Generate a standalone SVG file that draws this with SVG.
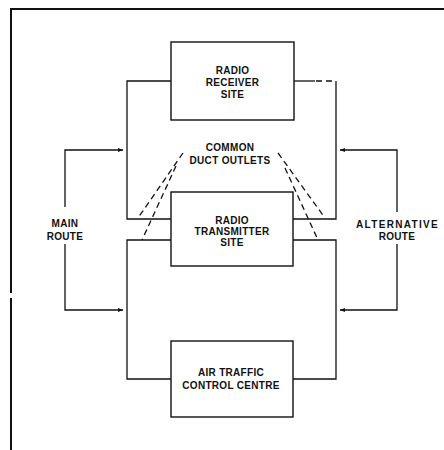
<svg xmlns="http://www.w3.org/2000/svg" width="444" height="450" viewBox="0 0 444 450">
<defs>
<style>
.ln{stroke:#111;stroke-width:1.3;fill:none}
.dsh{stroke:#111;stroke-width:1.3;fill:none;stroke-dasharray:6,4}
.box{stroke:#111;stroke-width:1.4;fill:#fff}
.t{font-family:"Liberation Sans",Arial,sans-serif;font-size:10px;font-weight:bold;fill:#111;text-anchor:middle;letter-spacing:0.3px}
</style>
<marker id="ah" viewBox="0 0 10 10" refX="10" refY="5" markerWidth="5" markerHeight="5" orient="auto" markerUnits="userSpaceOnUse">
<path d="M0,1 L10,5 L0,9 z" fill="#111"/>
</marker>
</defs>
<rect width="444" height="450" fill="#fff"/>
<g id="frame">
<path d="M11,450 L11,298 M11,293 L11,9 L444,9" stroke="#111" stroke-width="2" fill="none"/>
</g>
<g id="connectors">
<path class="ln" d="M171,81 L127,81 L127,219 L171,219"/>
<path class="ln" d="M171,240 L127,240 L127,379 L171,379"/>
<path class="ln" d="M294,81 L315,81"/>
<path class="dsh" d="M316,81 L336,81" stroke-dasharray="5,2"/>
<path class="ln" d="M336,81 L336,219 L293,219"/>
<path class="ln" d="M293,240 L336,240 L336,379 L293,379"/>
<path class="ln" d="M65,207 L65,150 L123,150" marker-end="url(#ah)"/>
<path class="ln" d="M65,244 L65,310 L123,310" marker-end="url(#ah)"/>
<path class="ln" d="M397,212 L397,150 L340,150" marker-end="url(#ah)"/>
<path class="ln" d="M397,244 L397,310 L340,310" marker-end="url(#ah)"/>
<path class="dsh" d="M183,153 L138,218"/>
<path class="dsh" d="M176,166 L142,240"/>
<path class="dsh" d="M278,153 L325,218"/>
<path class="dsh" d="M285,168 L318,240"/>
</g>
<g id="receiver">
<rect class="box" x="171" y="42" width="123" height="78"/>
<text class="t" x="232.5" y="74">RADIO</text>
<text class="t" x="232.5" y="86">RECEIVER</text>
<text class="t" x="232.5" y="98">SITE</text>
</g>
<g id="duct-label">
<text class="t" x="230" y="151">COMMON</text>
<text class="t" x="230" y="164">DUCT OUTLETS</text>
</g>
<g id="transmitter">
<rect class="box" x="171" y="192" width="122" height="74"/>
<text class="t" x="232" y="224">RADIO</text>
<text class="t" x="232" y="235">TRANSMITTER</text>
<text class="t" x="232" y="246">SITE</text>
</g>
<g id="main-route">
<text class="t" x="65" y="227">MAIN</text>
<text class="t" x="65" y="240">ROUTE</text>
</g>
<g id="alt-route">
<text class="t" x="397" y="228" textLength="82" lengthAdjust="spacing">ALTERNATIVE</text>
<text class="t" x="397" y="240">ROUTE</text>
</g>
<g id="atc">
<rect class="box" x="171" y="341" width="122" height="76"/>
<text class="t" x="231" y="376">AIR TRAFFIC</text>
<text class="t" x="231" y="389">CONTROL CENTRE</text>
</g>
</svg>
